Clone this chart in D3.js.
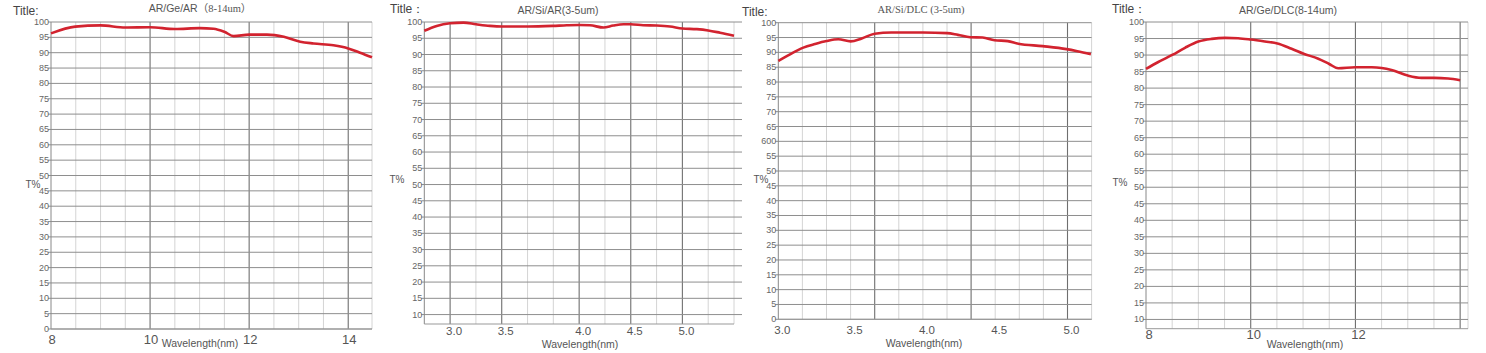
<!DOCTYPE html>
<html>

<head>
  <meta charset="utf-8">
  <title>Transmission</title>
  <script src="https://cdn.jsdelivr.net/npm/d3@7/dist/d3.min.js"></script>
  <style>
    body { margin: 0; background: #fff; }
    text { font-family: "Liberation Sans", Arial, sans-serif; }
  </style>
</head>

<body>
  <svg width="1486" height="353" id="mainsvg" style="display:block"></svg>
  <script>
    // values
    const p1Wave = [8.0, 8.49, 9.0, 9.5, 10.0, 10.5, 11.0, 11.28, 11.5, 11.69, 12.0, 12.36, 12.7, 13.03, 13.3, 13.7, 14.0, 14.24, 14.48];
    const p1T = [96.3, 98.5, 98.9, 98.2, 98.3, 97.7, 98.0, 97.8, 96.8, 95.4, 95.9, 95.9, 95.2, 93.6, 93.0, 92.4, 91.4, 90.0, 88.5];

    const p2Wave = [2.75, 2.87, 3.0, 3.13, 3.25, 3.385, 3.5, 3.67, 3.83, 3.92, 4.0, 4.105, 4.235, 4.33, 4.43, 4.5, 4.62, 4.75, 4.88, 5.0, 5.14, 5.25, 5.365, 5.5];
    const p2T = [97.3, 98.8, 99.6, 99.8, 99.3, 98.8, 98.6, 98.6, 98.8, 99.0, 99.1, 99.0, 98.3, 98.9, 99.3, 99.3, 99.0, 98.9, 98.6, 98.0, 97.8, 97.4, 96.7, 95.8];

    const p3Wave = [3.0, 3.068, 3.173, 3.253, 3.333, 3.415, 3.5, 3.577, 3.667, 3.782, 4.0, 4.167, 4.242, 4.328, 4.413, 4.495, 4.587, 4.66, 4.828, 4.993, 5.068, 5.162];
    const p3T = [87.1, 89.0, 91.6, 92.8, 93.8, 94.4, 93.7, 94.7, 96.3, 96.7, 96.7, 96.5, 95.9, 95.1, 95.0, 94.1, 93.8, 92.9, 92.1, 91.1, 90.4, 89.4];

    const p4Wave = [8.0, 8.235, 8.51, 8.745, 9.0, 9.255, 9.51, 9.76, 10.0, 10.27, 10.51, 10.78, 11.01, 11.29, 11.5, 11.67, 12.0, 12.31, 12.5, 12.69, 13.0, 13.26, 13.5, 13.77, 14.0];
    const p4T = [85.8, 87.9, 90.1, 92.2, 94.1, 94.9, 95.2, 95.1, 94.7, 94.1, 93.5, 91.9, 90.4, 88.9, 87.3, 86.0, 86.3, 86.3, 86.1, 85.5, 83.8, 83.1, 83.1, 82.9, 82.4];

    const titles = ["AR/Ge/AR", "AR/Si/AR(3-5um)", "AR/Si/DLC (3-5um)", "AR/Ge/DLC(8-14um)"];
    const titleLabels = ["Title:", "Title：", "Title:", "Title："];

    const p1XTicks = [8, 10, 12, 14];
    const p2XTicks = [3.0, 3.5, 4.0, 4.5, 5.0];
    const p3XTicks = [3.0, 3.5, 4.0, 4.5, 5.0];
    const p4XTicks = [8, 10, 12];

    const yTicksFrom0 = d3.range(0, 101, 5);
    const yTicksFrom10 = d3.range(10, 101, 5);

    // the scanned axes are not evenly spaced, so each panel maps wavelength -> grid cell
    const panels = [
      {
        wave: p1Wave, t: p1T, xTicks: p1XTicks, fmt: d => d, yTicks: yTicksFrom0,
        knotsWave: [8, 14.48], knotsIdx: [0, 12.96], cells: 12.96, major: [4, 8, 12],
        yDomain: [0, 100], left: 51, right: 372, top: 22, bottom: 329,
        xLabelY: 344, xLabelSize: 13, xLabelDx: 1, axisTitle: [200, 347],
        tLabel: [33, 188], titleLabel: [13, 15], title: [200, 12], hExtend: 0
      },
      {
        wave: p2Wave, t: p2T, xTicks: p2XTicks, fmt: d3.format('.1f'), yTicks: yTicksFrom10,
        knotsWave: [2.75, 3.0, 3.5, 4.0, 4.5, 5.0, 5.5], knotsIdx: [0, 1, 3, 6, 8, 10, 12], cells: 12, major: [1, 3, 6, 8, 10],
        yDomain: [7.1, 100], left: 424.3, right: 734, top: 22, bottom: 324,
        xLabelY: 335, xLabelSize: 11.5, xLabelDx: 4, axisTitle: [580, 347.5],
        tLabel: [397, 183], titleLabel: [390, 13], title: [558, 14], hExtend: 8
      },
      {
        wave: p3Wave, t: p3T, xTicks: p3XTicks, fmt: d3.format('.1f'), yTicks: yTicksFrom0,
        knotsWave: [3.0, 3.0 + 13 / 6], knotsIdx: [0, 13], cells: 13, major: [4, 8, 12],
        yDomain: [0, 100], left: 778.3, right: 1091.6, top: 22.7, bottom: 319.3,
        xLabelY: 334, xLabelSize: 11.5, xLabelDx: 4, axisTitle: [924, 346.5],
        tLabel: [761, 183], titleLabel: [742, 15.5], title: [921, 13], hExtend: 0,
        yLabel: d => d === 60 ? "600" : d
      },
      {
        wave: p4Wave, t: p4T, xTicks: p4XTicks, fmt: d => d, yTicks: yTicksFrom10,
        knotsWave: [8, 14.15], knotsIdx: [0, 12.3], cells: 12.3, major: [4, 8, 12],
        yDomain: [7.2, 100], left: 1146, right: 1468, top: 22, bottom: 328.7,
        xLabelY: 339, xLabelSize: 13, xLabelDx: 3, axisTitle: [1305, 348],
        tLabel: [1120, 186], titleLabel: [1112, 13], title: [1288, 14], hExtend: 0
      }
    ];

    const svg = d3.select('svg');

    const drawPanel = (cfg, i) => {
      const g = svg.append('g');
      const toIdx = d3.scaleLinear().domain(cfg.knotsWave).range(cfg.knotsIdx);
      const idxScale = d3.scaleLinear().domain([0, cfg.cells]).range([cfg.left, cfg.right]);
      const x = v => idxScale(toIdx(v));
      const y = d3.scaleLinear().domain(cfg.yDomain).range([cfg.bottom, cfg.top]);

      // vertical grid, one line per cell, darker at the major ones
      const vIdx = d3.range(1, Math.floor(cfg.cells) + 1);
      if (cfg.cells % 1 !== 0) vIdx.push(cfg.cells);
      const isMajor = d => cfg.major.includes(d);
      g.selectAll('.vgrid')
        .data(vIdx.sort((a, b) => isMajor(a) - isMajor(b)))
        .join('line')
        .attr('x1', d => idxScale(d)).attr('x2', d => idxScale(d))
        .attr('y1', cfg.top).attr('y2', cfg.bottom)
        .attr('stroke', d => isMajor(d) ? '#6f6f6f' : '#cfcfcf')
        .attr('stroke-width', d => isMajor(d) ? 1.1 : 0.9);

      // horizontal grid
      g.selectAll('.hgrid')
        .data(cfg.yTicks)
        .join('line')
        .attr('x1', cfg.left - 3).attr('x2', cfg.right + cfg.hExtend)
        .attr('y1', d => y(d)).attr('y2', d => y(d))
        .attr('stroke', '#8e8e8e')
        .attr('stroke-width', 1);

      // axis frame
      g.append('line')
        .attr('x1', cfg.left).attr('x2', cfg.left)
        .attr('y1', cfg.top).attr('y2', cfg.bottom)
        .attr('stroke', '#888');
      g.append('line')
        .attr('x1', cfg.left).attr('x2', cfg.right)
        .attr('y1', cfg.bottom).attr('y2', cfg.bottom)
        .attr('stroke', '#999');

      // y labels
      g.selectAll('.ylab')
        .data(cfg.yTicks)
        .join('text')
        .attr('x', cfg.left - 2)
        .attr('y', d => y(d) + 3)
        .attr('text-anchor', 'end')
        .attr('font-size', 9)
        .attr('fill', '#666')
        .text(d => cfg.yLabel ? cfg.yLabel(d) : d);

      // x labels
      g.selectAll('.xlab')
        .data(cfg.xTicks)
        .join('text')
        .attr('x', d => x(d) + cfg.xLabelDx)
        .attr('y', cfg.xLabelY)
        .attr('text-anchor', 'middle')
        .attr('font-size', cfg.xLabelSize)
        .attr('fill', '#555')
        .text(cfg.fmt);

      g.append('text')
        .attr('x', cfg.axisTitle[0]).attr('y', cfg.axisTitle[1])
        .attr('text-anchor', 'middle')
        .attr('font-size', 10.5)
        .attr('fill', '#555')
        .text('Wavelength(nm)');

      g.append('text')
        .attr('x', cfg.tLabel[0]).attr('y', cfg.tLabel[1])
        .attr('text-anchor', 'middle')
        .attr('font-size', 10)
        .attr('fill', '#555')
        .text('T%');

      g.append('text')
        .attr('x', cfg.titleLabel[0]).attr('y', cfg.titleLabel[1])
        .attr('font-size', 12)
        .attr('fill', '#444')
        .text(titleLabels[i]);

      const title = g.append('text')
        .attr('x', cfg.title[0]).attr('y', cfg.title[1])
        .attr('text-anchor', 'middle')
        .attr('font-size', 10.5)
        .attr('fill', '#555');
      if (i === 0) {
        title.append('tspan').text(titles[0]);
        title.append('tspan')
          .style('font-family', '"Liberation Serif", "Noto Sans CJK SC", serif')
          .text('（8-14um）');
      } else if (i === 2) {
        title.style('font-family', '"Liberation Serif", serif').text(titles[i]);
      } else {
        title.text(titles[i]);
      }

      // transmission curve
      const line = d3.line()
        .x(d => x(d[0]))
        .y(d => y(d[1]))
        .curve(d3.curveMonotoneX);
      g.append('path')
        .datum(d3.zip(cfg.wave, cfg.t))
        .attr('d', line)
        .attr('fill', 'none')
        .attr('stroke', '#d2232f')
        .attr('stroke-width', 2.6)
        .attr('stroke-linejoin', 'round');
    };

    panels.forEach(drawPanel);
  </script>
</body>

</html>
